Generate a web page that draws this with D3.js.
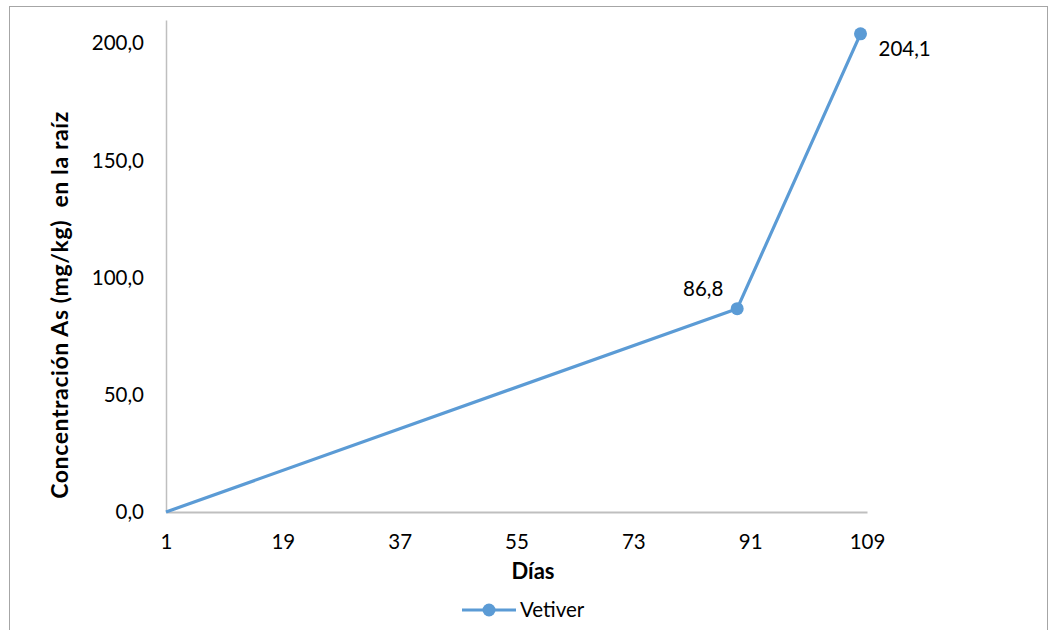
<!DOCTYPE html>
<html>
<head>
<meta charset="utf-8">
<script src="https://cdn.jsdelivr.net/npm/d3@7"></script>
<style>
  html, body { margin: 0; padding: 0; background: #fff; }
  text { font-family: Lato, "Liberation Sans", sans-serif; fill: #000; }
</style>
</head>
<body>
<svg id="chart" width="1052" height="630"></svg>
<script>
// Arsenic concentration in vetiver roots over time
const days = [1, 89, 108];
const concentration = [0, 86.8, 204.1];
const xTicks = [1, 19, 37, 55, 73, 91, 109];
const yTicks = [0, 50, 100, 150, 200];
const seriesName = "Vetiver";
const xTitle = "Días";
const yTitle = "Concentración As (mg/kg)  en la raíz";

const svg = d3.select("#chart");
const color = "#5b9bd5";
const axisColor = "#bfbfbf";
const fmt = v => d3.format(".1f")(v).replace(".", ",");

// chart area border
svg.append("rect")
  .attr("x", 9.5).attr("y", 6.5)
  .attr("width", 1038).attr("height", 640)
  .attr("fill", "none").attr("stroke", "#a6a6a6").attr("stroke-width", 1);

const plot = { left: 166, right: 867, top: 20, bottom: 512 };

const x = d3.scaleLinear().domain([1, 109]).range([plot.left, plot.right]);
const y = d3.scaleLinear().domain([0, 210]).range([plot.bottom, plot.top]);

// x axis
const xAxis = svg.append("g")
  .attr("transform", `translate(0,${plot.bottom})`)
  .call(d3.axisBottom(x).tickValues(xTicks).tickSize(0).tickPadding(22).tickFormat(d3.format("d")));
xAxis.select(".domain").attr("stroke", axisColor).attr("stroke-width", 2);
xAxis.selectAll("text").style("font-size", "20.5px").attr("fill", "#000");

// y axis
const yAxis = svg.append("g")
  .attr("transform", `translate(${plot.left},0)`)
  .call(d3.axisLeft(y).tickValues(yTicks).tickSize(0).tickPadding(22).tickFormat(fmt));
yAxis.select(".domain").attr("stroke", axisColor).attr("stroke-width", 1.5);
yAxis.selectAll("text").style("font-size", "20.5px").attr("fill", "#000");

// axis titles
svg.append("text")
  .attr("x", 533).attr("y", 579)
  .attr("text-anchor", "middle")
  .style("font-size", "22px").style("font-weight", "bold")
  .text(xTitle);

svg.append("text")
  .attr("transform", `translate(68,305) rotate(-90)`)
  .attr("text-anchor", "middle")
  .style("font-size", "23px").style("font-weight", "bold")
  .style("letter-spacing", "0.6px")
  .style("white-space", "pre")
  .text(yTitle);

// series
const pts = days.map((d, i) => ({ d, v: concentration[i] }));
const line = d3.line().x(p => x(p.d)).y(p => y(p.v));
svg.append("path")
  .datum(pts)
  .attr("d", line)
  .attr("fill", "none").attr("stroke", color).attr("stroke-width", 3.2)
  .attr("stroke-linejoin", "round");

svg.selectAll("circle.pt")
  .data(pts.slice(1))
  .join("circle")
  .attr("class", "pt")
  .attr("cx", p => x(p.d)).attr("cy", p => y(p.v))
  .attr("r", 6.5).attr("fill", color);

// data labels
const labelOffsets = [null, { dx: -34, dy: -13, anchor: "middle" }, { dx: 18, dy: 22, anchor: "start" }];
pts.forEach((p, i) => {
  const o = labelOffsets[i];
  if (!o) return;
  svg.append("text")
    .attr("x", x(p.d) + o.dx).attr("y", y(p.v) + o.dy)
    .attr("text-anchor", o.anchor)
    .style("font-size", "20.5px")
    .text(fmt(p.v));
});

// legend
const lg = svg.append("g").attr("transform", "translate(462,610)");
lg.append("line").attr("x1", 0).attr("x2", 54).attr("y1", 0).attr("y2", 0)
  .attr("stroke", color).attr("stroke-width", 3.2);
lg.append("circle").attr("cx", 27).attr("cy", 0).attr("r", 6.5).attr("fill", color);
lg.append("text").attr("x", 58).attr("y", 7).style("font-size", "20.5px").text(seriesName);
</script>
</body>
</html>
